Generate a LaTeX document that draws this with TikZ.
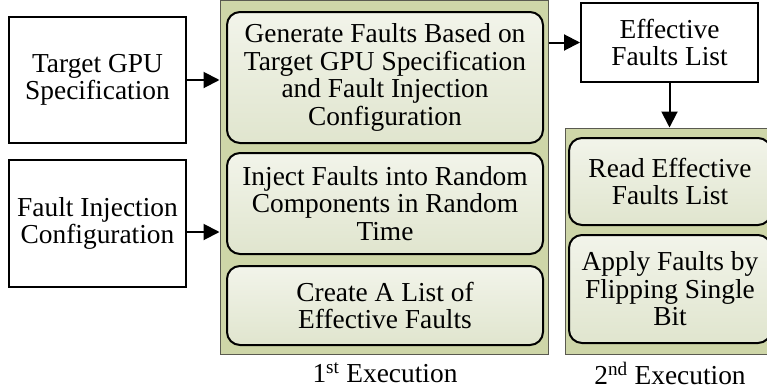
\documentclass[tikz,border=0pt]{standalone}
\usepackage{fontspec}
\setmainfont{Liberation Serif}
\usetikzlibrary{arrows.meta}
\definecolor{panelgreen}{RGB}{206,214,168}
\definecolor{steptop}{RGB}{242,244,234}
\definecolor{stepbottom}{RGB}{224,229,206}
\definecolor{panelline}{RGB}{90,90,80}
\begin{document}
\begin{tikzpicture}[x=1pt,y=-1pt,
  txt/.style={font=\fontsize{27.4}{27.4}\selectfont, align=center, inner sep=0pt},
  plainbox/.style={txt, draw=black, line width=2pt, fill=white},
  panel/.style={draw=panelline, line width=1pt, fill=panelgreen, inner sep=0pt},
  stepbox/.style={txt, draw=black, line width=2pt, rounded corners=13pt,
    top color=steptop, bottom color=stepbottom},
  link/.style={line width=2pt, -{Triangle[length=16pt,width=16pt]}}]
\useasboundingbox (0,0) rectangle (767,391);
\clip (0,0) rectangle (767,391);
\fill[white] (0,0) rectangle (767,391);

% inputs
\node[plainbox, minimum width=177pt, minimum height=126pt] (gpu) at (97.5,80) {Target GPU\\Specification};
\node[plainbox, minimum width=177pt, minimum height=127pt] (cfg) at (97.5,223.5) {Fault Injection\\Configuration};

% first execution
\node[panel, minimum width=328pt, minimum height=354pt] (p1) at (384,177) {};
\node[stepbox, minimum width=316pt, minimum height=131pt] (gen) at (385,77.5) {Generate Faults Based on\\Target GPU Specification\\and Fault Injection\\Configuration};
\node[stepbox, minimum width=316pt, minimum height=101pt] (inj) at (385,203.5) {Inject Faults into Random\\Components in Random\\Time};
\node[stepbox, minimum width=316pt, minimum height=79pt] (lst) at (385,305.5) {Create A List of\\Effective Faults};
\node[txt] (l1) at (385,373) {1\textsuperscript{st} Execution};

% effective faults list
\node[plainbox, minimum width=177pt, minimum height=79pt] (eff) at (669.5,42.5) {Effective\\Faults List};

% second execution
\node[panel, minimum width=210pt, minimum height=226pt] (p2) at (670,241) {};
\node[stepbox, minimum width=202pt, minimum height=87pt] (rd) at (670,181.5) {Read Effective\\Faults List};
\node[stepbox, minimum width=202pt, minimum height=108pt] (ap) at (670,289) {Apply Faults by\\Flipping Single\\Bit};
\node[txt] (l2) at (670,373) {2\textsuperscript{nd} Execution};

% connectors
\draw[link] (gpu.east) -- (gpu.east -| p1.west);
\draw[link] (cfg.east |- 0,232) -- (p1.west |- 0,232);
\draw[link] (p1.east |- eff.west) -- (eff.west);
\draw[link] (eff.south) -- (p2.north -| eff.south);
\end{tikzpicture}
\end{document}
